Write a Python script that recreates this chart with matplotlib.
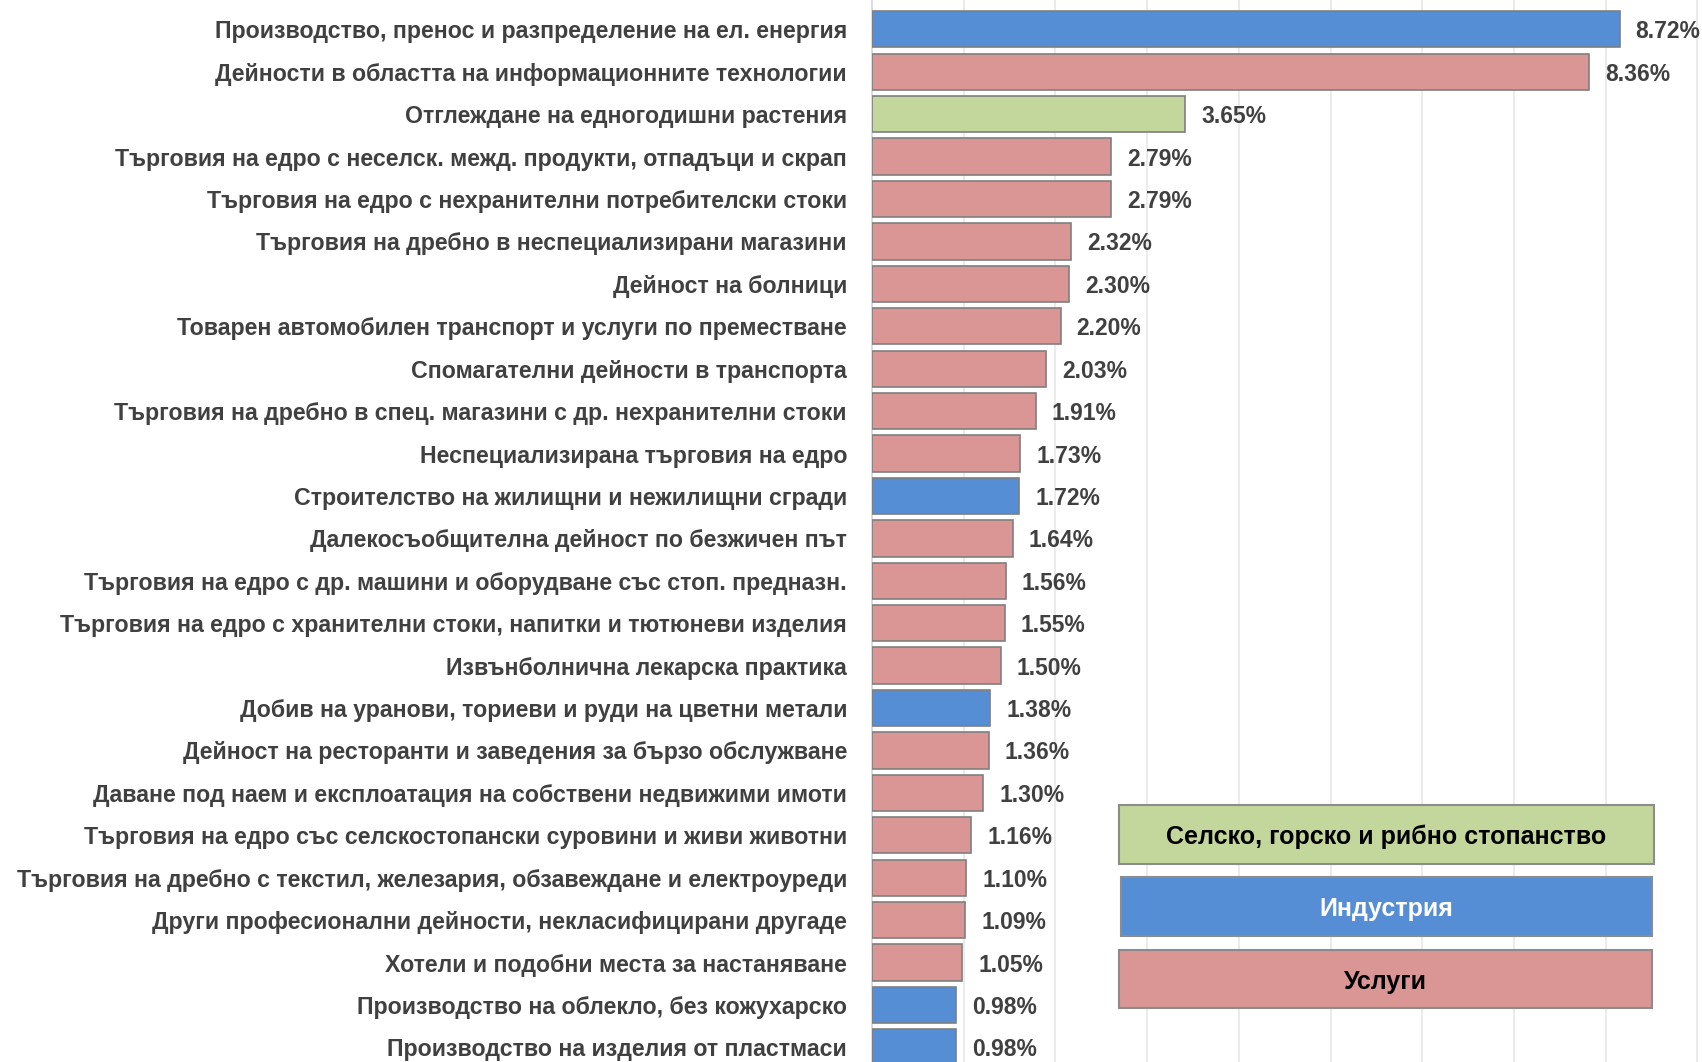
import matplotlib
matplotlib.use('Agg')
import matplotlib.pyplot as plt
from matplotlib.patches import Rectangle
import numpy as np

categories = [
    'Производство, пренос и разпределение на ел. енергия',
    'Дейности в областта на информационните технологии',
    'Отглеждане на едногодишни растения',
    'Търговия на едро с неселск. межд. продукти, отпадъци и скрап',
    'Търговия на едро с нехранителни потребителски стоки',
    'Търговия на дребно в неспециализирани магазини',
    'Дейност на болници',
    'Товарен автомобилен транспорт и услуги по преместване',
    'Спомагателни дейности в транспорта',
    'Търговия на дребно в спец. магазини с др. нехранителни стоки',
    'Неспециализирана търговия на едро',
    'Строителство на жилищни и нежилищни сгради',
    'Далекосъобщителна дейност по безжичен път',
    'Търговия на едро с др. машини и оборудване със стоп. предназн.',
    'Търговия на едро с хранителни стоки, напитки и тютюневи изделия',
    'Извънболнична лекарска практика',
    'Добив на уранови, ториеви и руди на цветни метали',
    'Дейност на ресторанти и заведения за бързо обслужване',
    'Даване под наем и експлоатация на собствени недвижими имоти',
    'Търговия на едро със селскостопански суровини и живи животни',
    'Търговия на дребно с текстил, железария, обзавеждане и електроуреди',
    'Други професионални дейности, некласифицирани другаде',
    'Хотели и подобни места за настаняване',
    'Производство на облекло, без кожухарско',
    'Производство на изделия от пластмаси',
]
values = [8.72, 8.36, 3.65, 2.79, 2.79, 2.32, 2.30, 2.20, 2.03, 1.91, 1.73, 1.72,
          1.64, 1.56, 1.55, 1.50, 1.38, 1.36, 1.30, 1.16, 1.10, 1.09, 1.05, 0.98, 0.98]
sectors = ['I', 'S', 'A', 'S', 'S', 'S', 'S', 'S', 'S', 'S', 'S', 'I',
           'S', 'S', 'S', 'S', 'I', 'S', 'S', 'S', 'S', 'S', 'S', 'I', 'I']
legend_keys = ['A', 'I', 'S']
legend_names = ['Селско, горско и рибно стопанство', 'Индустрия', 'Услуги']
sector_colors = {'A': '#C3D69B', 'I': '#558ED5', 'S': '#D99694'}
legend_text_colors = {'A': 'black', 'I': 'white', 'S': 'black'}

FONT = ['Liberation Sans', 'DejaVu Sans']
plt.rcParams['font.family'] = FONT

W, H = 1702, 1062
fig = plt.figure(figsize=(W / 100, H / 100), dpi=100)
ax = fig.add_axes([872 / W, 0, (W - 872) / W, 1])

XMAX = 9.68
y = np.arange(len(values))
ax.barh(y, values, height=0.856, color=[sector_colors[s] for s in sectors],
        edgecolor='#7f7f7f', linewidth=1.2, zorder=3)
ax.set_ylim(24.344, -0.691)
ax.set_xlim(0, XMAX)
ax.set_xticks(np.arange(1, 10) * XMAX * 0.1105)
ax.tick_params(axis='x', length=0, labelbottom=False)
ax.grid(axis='x', color='#e9e9e9', lw=1.3, zorder=0)
ax.set_yticks(y)
ax.set_yticklabels(categories, fontsize=16.7, fontweight='bold', color='#404040')
ax.tick_params(axis='y', length=0, pad=18)
for s in ['top', 'right', 'bottom']:
    ax.spines[s].set_visible(False)
ax.spines['left'].set_color('#d9d9d9')
ax.spines['left'].set_linewidth(1.3)

for yi, v in zip(y, values):
    ax.annotate(f'{v:.2f}%', (v, yi), xytext=(16, 0), textcoords='offset pixels',
                va='center_baseline', ha='left', fontsize=16.5, fontweight='bold',
                color='#404040', zorder=4)

# legend boxes (figure pixel coordinates)
lax = fig.add_axes([0, 0, 1, 1], zorder=5)
lax.set_xlim(0, W)
lax.set_ylim(H, 0)
lax.axis('off')
boxes = [(1119, 805, 535, 59), (1121, 877, 531, 59), (1119, 950, 533, 58)]
for key, name, (bx, by, bw, bh) in zip(legend_keys, legend_names, boxes):
    lax.add_patch(Rectangle((bx, by), bw, bh, facecolor=sector_colors[key],
                            edgecolor='#8c8c8c', linewidth=1.5))
    lax.text(bx + bw / 2, by + bh / 2, name, ha='center', va='center_baseline',
             fontsize=18, fontweight='bold', color=legend_text_colors[key])

fig.savefig('out.png', dpi=100)
